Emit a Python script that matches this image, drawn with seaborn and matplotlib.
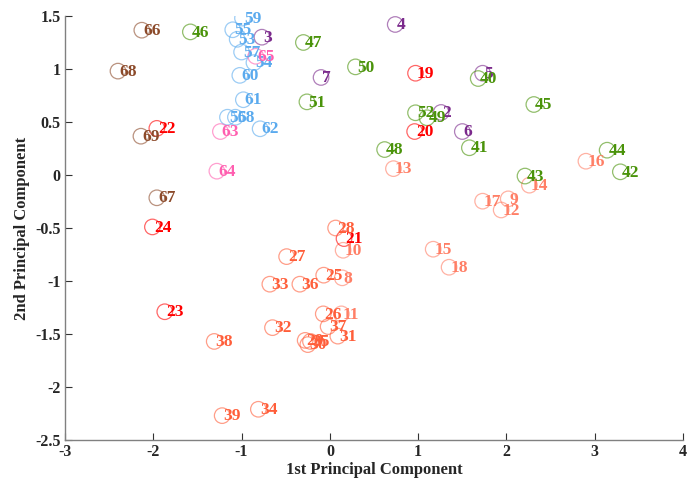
import numpy as np
import pandas as pd
import matplotlib
matplotlib.use("Agg")
import matplotlib.pyplot as plt
import seaborn as sns

# Sample scores on the first two principal components
ids = [2, 3, 4, 5, 6, 7,
       8, 9, 10, 11, 12, 13, 14, 15, 16, 17, 18,
       19, 20, 21, 22, 23, 24,
       25, 26, 27, 28, 29, 30, 31, 32, 33, 34, 35, 36, 37, 38, 39,
       40, 41, 42, 43, 44, 45, 46, 47, 48, 49, 50, 51, 52,
       53, 54, 55, 56, 57, 58, 59, 60, 61, 62,
       63, 64, 65,
       66, 67, 68, 69]
pc1 = [1.26, -0.77, 0.74, 1.73, 1.50, -0.10,
       0.14, 2.02, 0.15, 0.13, 1.94, 0.72, 2.26, 1.17, 2.90, 1.73, 1.35,
       0.97, 0.96, 0.16, -1.96, -1.87, -2.01,
       -0.07, -0.075, -0.49, 0.065, -0.28, -0.25, 0.09, -0.65, -0.68, -0.81, -0.22, -0.34, -0.02, -1.31, -1.22,
       1.68, 1.58, 3.29, 2.21, 3.14, 2.31, -1.58, -0.30, 0.62, 1.10, 0.29, -0.26, 0.97,
       -1.05, -0.86, -1.10, -1.16, -1.00, -1.07, -0.99, -1.02, -0.98, -0.79,
       -1.24, -1.28, -0.84,
       -2.13, -1.96, -2.40, -2.14]
pc2 = [0.59, 1.30, 1.42, 0.96, 0.41, 0.92,
       -0.97, -0.225, -0.71, -1.31, -0.33, 0.06, -0.096, -0.70, 0.13, -0.247, -0.87,
       0.96, 0.41, -0.60, 0.44, -1.29, -0.49,
       -0.945, -1.31, -0.77, -0.50, -1.56, -1.60, -1.52, -1.44, -1.03, -2.21, -1.57, -1.03, -1.43, -1.57, -2.27,
       0.91, 0.257, 0.03, -0.01, 0.234, 0.665, 1.35, 1.25, 0.24, 0.54, 1.02, 0.69, 0.587,
       1.28, 1.06, 1.37, 0.545, 1.16, 0.545, 1.48, 0.94, 0.71, 0.436,
       0.41, 0.036, 1.12,
       1.366, -0.215, 0.98, 0.366]
groups = (["A"] * 6 + ["B"] * 11 + ["C"] * 6 + ["D"] * 15 +
          ["E"] * 13 + ["F"] * 10 + ["G"] * 3 + ["H"] * 4)

palette = {
    "A": "#7B2A8C",
    "B": "#FF7F66",
    "C": "#FF0000",
    "D": "#FF5E3A",
    "E": "#4A930A",
    "F": "#5AAAEE",
    "G": "#FF5FB0",
    "H": "#8C4A2A",
}

df = pd.DataFrame({"id": ids, "pc1": pc1, "pc2": pc2, "group": groups})

sns.set_style("white")
plt.rcParams["font.family"] = ["Liberation Serif", "DejaVu Serif"]

fig = plt.figure(figsize=(6.96, 4.80), dpi=100)
ax = fig.add_axes([0.0934, 0.0833, 0.888, 0.8834])

sns.scatterplot(data=df, x="pc1", y="pc2", hue="group", palette=palette,
                s=125, linewidth=0.9, legend=False, ax=ax)

# hollow circles: move the hue colour to the edge
coll = ax.collections[0]
cols = coll.get_facecolors().copy()
cols[:, 3] = 0.6
coll.set_edgecolors(cols)
coll.set_facecolors("none")

for _, r in df.iterrows():
    ax.annotate(str(r["id"]), (r["pc1"], r["pc2"]), xytext=(1.0, -0.5),
                textcoords="offset points", ha="left", va="center",
                fontsize=12.5, fontweight="bold", color=palette[r["group"]])

ax.set_xlim(-3, 4)
ax.set_ylim(-2.5, 1.5)
ax.set_xticks(np.arange(-3, 5, 1))
ax.set_yticks(np.arange(-2.5, 1.51, 0.5))
ax.set_xticklabels([f"{v:g}" for v in np.arange(-3, 5, 1)])
ax.set_yticklabels([f"{v:g}" for v in np.arange(-2.5, 1.51, 0.5)])

for side in ("top", "right"):
    ax.spines[side].set_visible(False)
for side in ("left", "bottom"):
    ax.spines[side].set_color("#808080")
    ax.spines[side].set_linewidth(1.0)

ax.tick_params(direction="in", length=5, width=0.8, color="#333333",
               labelsize=11.5, pad=3, left=True, bottom=True)
for lab in ax.get_xticklabels() + ax.get_yticklabels():
    lab.set_fontweight("bold")

ax.set_xlabel("1st Principal Component", fontsize=12, fontweight="bold", labelpad=1)
ax.set_ylabel("2nd Principal Component", fontsize=12, fontweight="bold", labelpad=4)

fig.savefig("out.png", dpi=100)
